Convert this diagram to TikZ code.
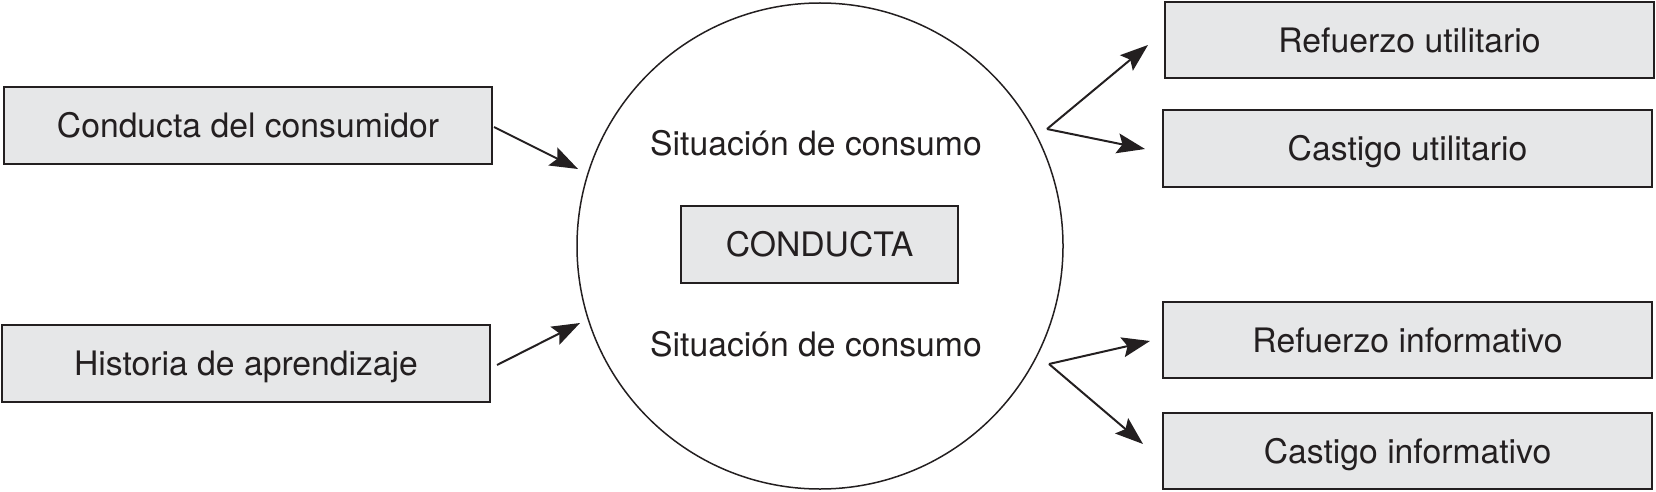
\documentclass[tikz,border=0pt]{standalone}
\usepackage{fontspec}
\setmainfont{TeX Gyre Heros}
\usetikzlibrary{arrows.meta,calc}
\definecolor{boxfill}{RGB}{230,231,232}
\definecolor{ink}{RGB}{35,31,32}
\begin{document}
\begin{tikzpicture}[x=1pt,y=-1pt,
  every node/.style={font=\fontsize{33.7}{40}\selectfont, text=ink, inner sep=0pt, text height=24.4pt, text depth=0pt},
  box/.style={draw=ink, fill=boxfill, line width=2pt, minimum width=488pt, minimum height=77pt},
  bigcircle/.style={draw=ink, circle, line width=1.5pt, minimum size=486pt},
  arr/.style={draw=ink, line width=2pt, -{Stealth[length=28pt,width=20pt,inset=5pt]}}
]
\useasboundingbox (0,0) rectangle (1656,492);
\node[bigcircle, text height=, text depth=] (circ) at (820,246) {};
\node[box, minimum width=277pt] (cond) at (819.5,244.5) {CONDUCTA};
\node (sit1) at (816,143) {Situación de consumo};
\node (sit2) at (816,344) {Situación de consumo};
\node[box] (cdc) at (248,125.5) {Conducta del consumidor};
\node[box] (hda) at (246,363.5) {Historia de aprendizaje};
\node[box, minimum width=489pt, minimum height=76pt] (ru) at (1409.5,40) {Refuerzo utilitario};
\node[box, minimum width=489pt] (cu) at (1407.5,148.5) {Castigo utilitario};
\node[box, minimum width=489pt, minimum height=76pt] (ri) at (1407.5,340) {Refuerzo informativo};
\node[box, minimum width=489pt, minimum height=76pt] (ci) at (1407.5,451) {Castigo informativo};
\coordinate (fu) at (1047,129);
\coordinate (fi) at (1049,364);
\draw[arr] ($(cdc.east)+(1,1.5)$) -- ($(circ.center)+(-242,-77)$);
\draw[arr] ($(hda.east)+(6,1.5)$) -- ($(circ.center)+(-240,77)$);
\draw[arr] (fu) -- ($(ru.west)+(-16,5)$);
\draw[arr] (fu) -- ($(cu.west)+(-17,0.5)$);
\draw[arr] (fi) -- ($(ri.west)+(-12,1)$);
\draw[arr] (fi) -- ($(ci.west)+(-19,-7)$);
\end{tikzpicture}
\end{document}
